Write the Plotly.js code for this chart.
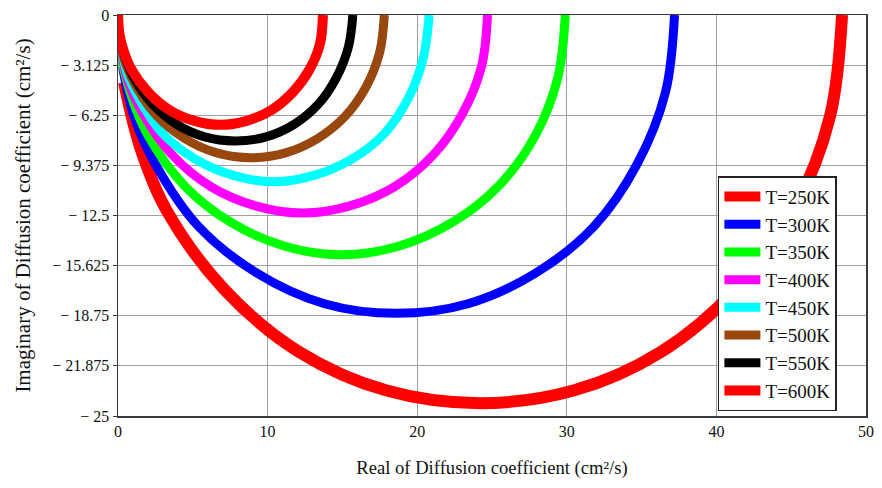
<!DOCTYPE html>
<html>
<head>
<meta charset="utf-8">
<script src="https://cdn.plot.ly/plotly-3.0.1.min.js"></script>
<style>
  html, body { margin: 0; padding: 0; background: #ffffff; }
  #chart { width: 882px; height: 488px; }
</style>
</head>
<body>
<div id="chart"></div>
<script>
// Complex diffusion coefficient loci (real vs imaginary part), one per temperature
const seriesNames = ['T=250K', 'T=300K', 'T=350K', 'T=400K', 'T=450K', 'T=500K', 'T=550K', 'T=600K'];

const real250 = [48.4, 47.6, 45.2, 41.3, 36.3, 30.5, 24.2, 17.9, 12.1, 7.1, 3.2, 1.5, 0.4];
const imag250 = [0, -6.3, -12.1, -17.1, -21.0, -23.4, -24.2, -23.4, -21.0, -17.1, -12.1, -8.3, -4.2];

const real300 = [37.2, 36.6, 34.7, 31.8, 27.9, 23.4, 18.6, 13.8, 9.3, 5.4, 2.5, 1.1, 0.3];
const imag300 = [0, -4.8, -9.3, -13.2, -16.1, -18.0, -18.6, -18.0, -16.1, -13.2, -9.3, -6.4, -3.2];

const real350 = [29.9, 29.4, 27.9, 25.5, 22.4, 18.8, 14.95, 11.1, 7.5, 4.4, 2.0, 0.9, 0.2];
const imag350 = [0, -3.9, -7.5, -10.6, -12.9, -14.4, -14.95, -14.4, -12.9, -10.6, -7.5, -5.1, -2.6];

const real400 = [24.7, 24.3, 23.0, 21.1, 18.5, 15.5, 12.35, 9.2, 6.2, 3.6, 1.7, 0.7, 0.2];
const imag400 = [0, -3.2, -6.2, -8.7, -10.7, -11.9, -12.35, -11.9, -10.7, -8.7, -6.2, -4.2, -2.1];

const real450 = [20.8, 20.4, 19.4, 17.8, 15.6, 13.1, 10.4, 7.7, 5.2, 3.0, 1.4, 0.6, 0.2];
const imag450 = [0, -2.7, -5.2, -7.4, -9.0, -10.0, -10.4, -10.0, -9.0, -7.4, -5.2, -3.6, -1.8];

const real500 = [17.8, 17.5, 16.6, 15.2, 13.35, 11.2, 8.9, 6.6, 4.45, 2.6, 1.2, 0.5, 0.1];
const imag500 = [0, -2.3, -4.45, -6.3, -7.7, -8.6, -8.9, -8.6, -7.7, -6.3, -4.45, -3.0, -1.5];

const real550 = [15.7, 15.4, 14.6, 13.4, 11.8, 9.9, 7.85, 5.8, 3.9, 2.3, 1.05, 0.5, 0.1];
const imag550 = [0, -2.0, -3.9, -5.55, -6.8, -7.6, -7.85, -7.6, -6.8, -5.55, -3.9, -2.7, -1.4];

const real600 = [13.7, 13.5, 12.8, 11.7, 10.3, 8.6, 6.85, 5.1, 3.4, 2.0, 0.9, 0.4, 0.1, 0];
const imag600 = [0, -1.8, -3.4, -4.8, -5.9, -6.6, -6.85, -6.6, -5.9, -4.8, -3.4, -2.3, -1.2, 0];

const yTickVals = [0, -3.125, -6.25, -9.375, -12.5, -15.625, -18.75, -21.875, -25];
const yTickText = ['0', '\u2212 3.125', '\u2212 6.25', '\u2212 9.375', '\u2212 12.5', '\u2212 15.625', '\u2212 18.75', '\u2212 21.875', '\u2212 25'];
const xTickVals = [0, 10, 20, 30, 40, 50];

const realParts = [real250, real300, real350, real400, real450, real500, real550, real600];
const imagParts = [imag250, imag300, imag350, imag400, imag450, imag500, imag550, imag600];
const colors = ['#ff0000', '#0000ff', '#00ff00', '#ff00ff', '#00ffff', '#98480f', '#000000', '#ff0000'];
const widths = [12, 9, 9, 9, 9, 9, 9, 10];

const serif = 'Liberation Serif, Times New Roman, serif';

const traces = seriesNames.map((name, i) => ({
  type: 'scatter',
  mode: 'lines',
  name: name,
  x: realParts[i],
  y: imagParts[i],
  line: { color: colors[i], width: widths[i], shape: 'spline', smoothing: 1 },
  hoverinfo: 'x+y+name'
}));

const layout = {
  width: 882,
  height: 488,
  margin: { l: 118, r: 16, t: 15, b: 72 },
  paper_bgcolor: '#ffffff',
  plot_bgcolor: '#ffffff',
  font: { family: serif, color: '#111111', size: 16 },
  showlegend: true,
  legend: {
    x: 0.802, y: 0.598, xanchor: 'left', yanchor: 'top',
    bgcolor: '#ffffff', bordercolor: '#222222', borderwidth: 1.5,
    font: { family: serif, size: 19, color: '#111111' },
    itemwidth: 36,
    tracegroupgap: 0
  },
  xaxis: {
    range: [0, 50],
    tickvals: xTickVals,
    ticks: '',
    showgrid: true, gridcolor: '#a0a0a0', gridwidth: 1,
    zeroline: false,
    showline: true, mirror: true, linecolor: '#3a3a3a', linewidth: 1.5,
    tickfont: { family: serif, size: 16 },
    title: { text: 'Real of Diffusion coefficient (cm\u00b2/s)', font: { family: serif, size: 18.6 }, standoff: 22 }
  },
  yaxis: {
    range: [-25, 0],
    tickvals: yTickVals,
    ticktext: yTickText,
    ticks: 'outside', ticklen: 4, tickcolor: '#3a3a3a',
    showgrid: true, gridcolor: '#a0a0a0', gridwidth: 1,
    zeroline: false,
    showline: true, mirror: true, linecolor: '#3a3a3a', linewidth: 1.5,
    tickfont: { family: serif, size: 16 },
    title: { text: 'Imaginary of Diffusion coefficient (cm\u00b2/s)', font: { family: serif, size: 21 }, standoff: 16 }
  }
};

Plotly.newPlot('chart', traces, layout, { staticPlot: true, displayModeBar: false });
</script>
</body>
</html>
